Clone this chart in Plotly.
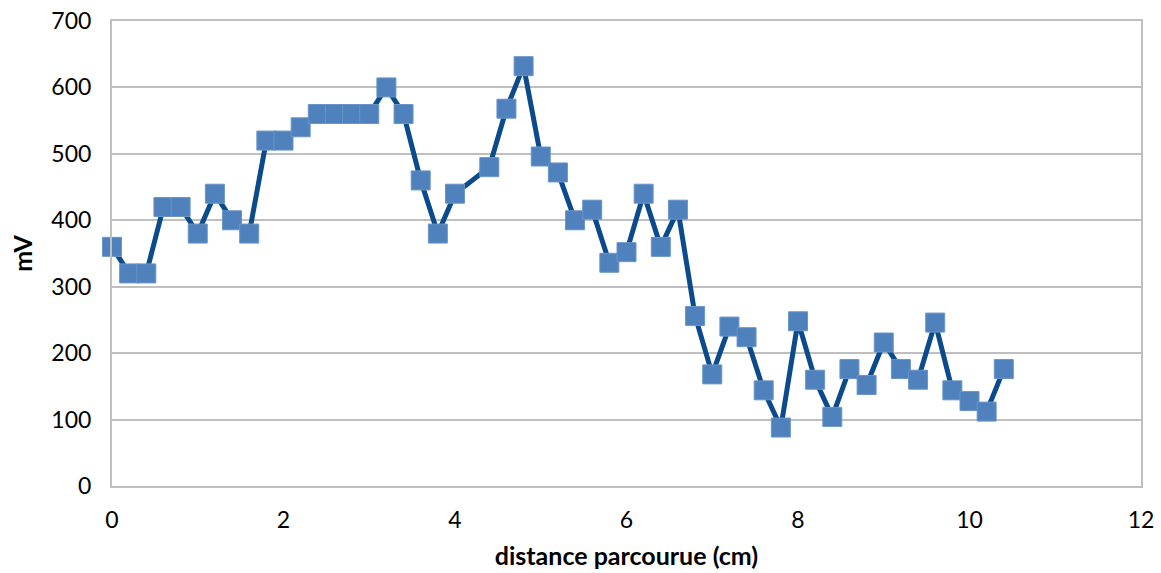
import plotly.graph_objects as go

distance_cm = [0, 0.2, 0.4, 0.6, 0.8, 1.0, 1.2, 1.4, 1.6, 1.8, 2.0, 2.2, 2.4, 2.6, 2.8, 3.0,
               3.2, 3.4, 3.6, 3.8, 4.0, 4.4, 4.6, 4.8, 5.0, 5.2, 5.4, 5.6, 5.8, 6.0, 6.2,
               6.4, 6.6, 6.8, 7.0, 7.2, 7.4, 7.6, 7.8, 8.0, 8.2, 8.4, 8.6, 8.8, 9.0, 9.2,
               9.4, 9.6, 9.8, 10.0, 10.2, 10.4]
millivolts = [360, 320, 320, 420, 420, 380, 440, 400, 380, 520, 520, 540, 560, 560, 560, 560,
              600, 560, 460, 380, 440, 480, 568, 632, 496, 472, 400, 416, 336, 352, 440,
              360, 416, 256, 168, 240, 224, 144, 88, 248, 160, 104, 176, 152, 216, 176,
              160, 246, 144, 128, 112, 176]

x_ticks = [0, 2, 4, 6, 8, 10, 12]
y_ticks = [0, 100, 200, 300, 400, 500, 600, 700]

FONT = "Lato, 'Open Sans', sans-serif"

fig = go.Figure()
fig.add_trace(go.Scatter(
    x=distance_cm, y=millivolts, mode="lines+markers",
    line=dict(color="#0B4A8B", width=5),
    marker=dict(symbol="square", size=19, color="#4F81BD",
                line=dict(color="#6A95C9", width=1)),
    showlegend=False, cliponaxis=False,
))

fig.update_layout(
    width=1161, height=573,
    margin=dict(l=112, r=20, t=21, b=87, autoexpand=False),
    paper_bgcolor="white", plot_bgcolor="white",
    font=dict(family=FONT, size=23, color="#000000"),
    xaxis=dict(
        range=[0, 12], tickvals=x_ticks, ticktext=[str(v) for v in x_ticks],
        showgrid=False, zeroline=False, automargin=False,
        showline=True, linecolor="#BFBFBF", linewidth=2, mirror=True,
        ticks="", ticklabelstandoff=12,
        title=dict(text="<b>distance parcourue (cm)</b>", font=dict(size=25), standoff=16),
    ),
    yaxis=dict(
        range=[0, 700], tickvals=y_ticks, ticktext=[str(v) for v in y_ticks],
        showgrid=True, gridcolor="#BFBFBF", gridwidth=2, zeroline=False, automargin=False,
        showline=True, linecolor="#BFBFBF", linewidth=2, mirror=True,
        ticks="", ticklabelstandoff=14,
        title=dict(text="<b>mV</b>", font=dict(size=25), standoff=12),
    ),
)

fig.write_html("out.html")
